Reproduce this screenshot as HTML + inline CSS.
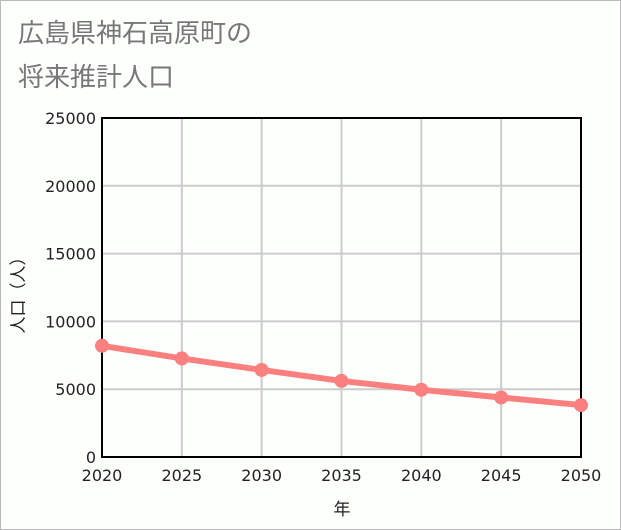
<!DOCTYPE html>
<html><head><meta charset="utf-8"><style>
body{margin:0;background:#fff;}
#wrap{position:relative;width:619px;height:528px;border:1px solid #bbb;background:#fdfffd;overflow:hidden;}
.title{position:absolute;left:17px;font:26px "Liberation Sans","Noto Sans CJK JP",sans-serif;color:#777;}
svg{position:absolute;left:0;top:0;}
</style></head><body>
<div id="wrap">
<div class="title" style="top:12px">広島県神石高原町の</div>
<div class="title" style="top:56px">将来推計人口</div>
<svg id="chart" width="621" height="530"></svg>
</div>
<script>
const years=[2020,2025,2030,2035,2040,2045,2050];
const population=[8200,7270,6420,5610,4960,4390,3830];
const yTicks=[0,5000,10000,15000,20000,25000];
const NS="http://www.w3.org/2000/svg";
const svg=document.getElementById('chart');
const L=101,R=580,T=117,B=456;
const x=v=>L+(v-2020)/30*(R-L);
const y=v=>B-v/25000*(B-T);
function mk(t,a,p){const e=document.createElementNS(NS,t);for(const k in a)e.setAttribute(k,a[k]);(p||svg).appendChild(e);return e;}
const grid=mk('g',{});


years.forEach(v=>{const l=mk('line',{x1:x(v),x2:x(v),y1:T,y2:B,stroke:'#ccc','stroke-width':2},grid);


const t=mk('text',{x:x(v),y:480,'text-anchor':'middle','font-size':16,'font-family':'DejaVu Sans, sans-serif',fill:'#222'});t.textContent=v;

});
yTicks.forEach(v=>{const l=mk('line',{x1:L,x2:R,y1:y(v),y2:y(v),stroke:'#ccc','stroke-width':2},grid);


const t=mk('text',{x:95,y:y(v)+6,'text-anchor':'end','font-size':16,'font-family':'DejaVu Sans, sans-serif',fill:'#222'});t.textContent=v;

});
const frame=mk('rect',{x:L,y:T,width:R-L,height:B-T,fill:'none',stroke:'#000','stroke-width':2});


const pts=years.map((v,i)=>x(v)+','+y(population[i])).join(' ');
const line=mk('polyline',{points:pts,fill:'none',stroke:'#fa8080','stroke-width':6});


years.forEach((v,i)=>{const c=mk('circle',{cx:x(v),cy:y(population[i]),r:7,fill:'#fa8080'});

});
const xt=mk('text',{x:341,y:514,'text-anchor':'middle','font-size':17,'font-family':'Liberation Sans, Noto Sans CJK JP, sans-serif',fill:'#222'});xt.textContent='年';


const yt=mk('text',{x:0,y:0,transform:'translate(23,290) rotate(-90)','text-anchor':'middle','font-size':17,'font-family':'Liberation Sans, Noto Sans CJK JP, sans-serif',fill:'#222'});yt.textContent='人口（人）';


</script>
</body></html>
